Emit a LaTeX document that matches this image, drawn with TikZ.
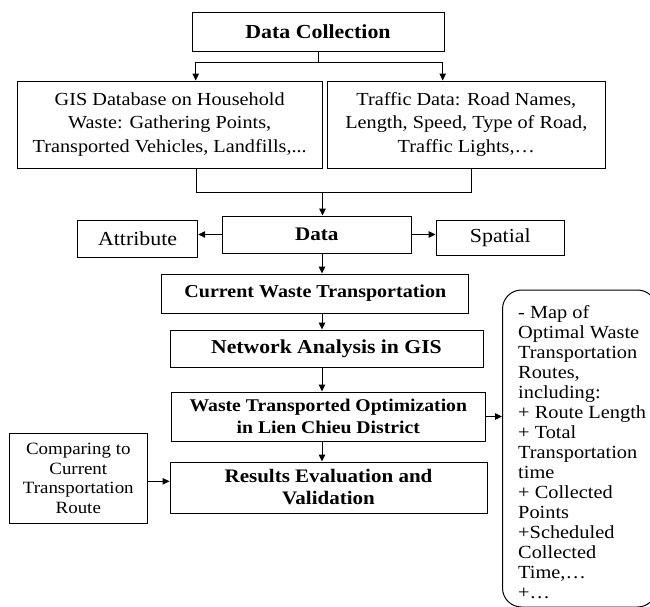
\documentclass[tikz,border=0pt]{standalone}
\usepackage{fontspec}
\setmainfont{Liberation Serif}[FakeStretch=1.1]
\usetikzlibrary{arrows.meta,calc}
\begin{document}
\begin{tikzpicture}[x=1pt,y=-1pt,
  box/.style={draw=black,line width=1pt,rectangle,inner sep=0pt,align=center},
  rframe/.style={draw=black,line width=1pt,rectangle,rounded corners=19pt,inner sep=0pt,anchor=north west},
  rtext/.style={inner sep=0pt,align=left,anchor=north west},
  arr/.style={line width=1pt,-{Triangle[length=7pt,width=6.5pt]}},
  ln/.style={line width=1pt},
  ]
\useasboundingbox (0,0) rectangle (650,606);
\clip (0,0) rectangle (650,606);

\node[box,minimum width=252pt,minimum height=39pt,font=\fontsize{19.9}{22}\selectfont\bfseries] (dc) at (318,31.7) {Data Collection};
\node[box,minimum width=304.6pt,minimum height=87pt,font=\fontsize{18.4}{23.6}\selectfont] (gis) at (169.7,124.5)
  {GIS Database on Household\\Waste: Gathering Points,\\Transported Vehicles, Landfills,...};
\node[box,minimum width=277.5pt,minimum height=87pt,font=\fontsize{18.4}{23.6}\selectfont] (tr) at (466.3,124.5)
  {Traffic Data: Road Names,\\Length, Speed, Type of Road,\\Traffic Lights,…};
\node[box,minimum width=188.4pt,minimum height=37pt,font=\fontsize{19.2}{22}\selectfont\bfseries] (data) at (316.8,234.5) {Data};
\node[box,minimum width=120.2pt,minimum height=37pt,font=\fontsize{19.9}{22}\selectfont] (attr) at (137.6,238.5) {Attribute};
\node[box,minimum width=128.6pt,minimum height=35pt,font=\fontsize{19.9}{22}\selectfont] (sp) at (500.3,237.5) {Spatial};
\node[box,minimum width=307.3pt,minimum height=39pt,font=\fontsize{18.2}{21}\selectfont\bfseries] (cwt) at (315.3,293.5) {Current Waste Transportation};
\node[box,minimum width=313pt,minimum height=37pt,font=\fontsize{19.7}{22}\selectfont\bfseries] (na) at (326.5,348.5) {Network Analysis in GIS};
\node[box,minimum width=313.4pt,minimum height=49pt,font=\fontsize{17.9}{21.7}\selectfont\bfseries] (wto) at (328.3,416.5)
  {Waste Transported Optimization\\in Lien Chieu District};
\node[box,minimum width=317pt,minimum height=51pt,font=\fontsize{19.1}{22}\selectfont\bfseries] (res) at (328.5,487.5)
  {Results Evaluation and\\Validation};
\node[box,minimum width=138pt,minimum height=90pt,font=\fontsize{17.2}{19.7}\selectfont] (comp) at (78.3,478.3)
  {Comparing to\\Current\\Transportation\\Route};
\node[rframe,minimum width=154pt,minimum height=317pt] (rb) at (502,289.5) {};
\node[rtext,font=\fontsize{18.5}{20}\selectfont] (rbt) at (518,305)
  {- Map of\\Optimal Waste\\Transportation\\Routes,\\including:\\+ Route Length\\+ Total\\Transportation\\time\\+ Collected\\Points\\+Scheduled\\Collected\\Time,…\\+…};

% fork from Data Collection
\coordinate (fl) at (195.7,62.3);
\coordinate (fr) at (442.7,62.3);
\draw[ln] (dc.south) -- (dc.south |- fl);
\draw[ln] (fl) -- (fr);
\draw[arr] (fl) -- (fl |- gis.north);
\draw[arr] (fr) -- (fr |- tr.north);

% join into Data
\coordinate (jl) at (196,192);
\coordinate (jr) at (471.3,192);
\coordinate (jm) at (322.5,192);
\draw[ln] (jl |- gis.south) -- (jl) -- (jr) -- (jr |- tr.south);
\draw[arr] (jm) -- (jm |- data.north);

\draw[arr] (data.west) -- (data.west -| attr.east);
\draw[arr] (data.east) -- (data.east -| sp.west);

\coordinate (ax) at (322,0);
\draw[arr] (data.south -| ax) -- (cwt.north -| ax);
\draw[arr] (cwt.south -| ax) -- (na.north -| ax);
\draw[arr] (na.south -| ax) -- (wto.north -| ax);
\draw[arr] (wto.south -| ax) -- (res.north -| ax);

\draw[arr] ($(comp.east)+(0,3)$) -- ($(comp.east -| res.west)+(0,3)$);
\draw[arr] (wto.east) -- (wto.east -| rb.west);
\end{tikzpicture}
\end{document}
